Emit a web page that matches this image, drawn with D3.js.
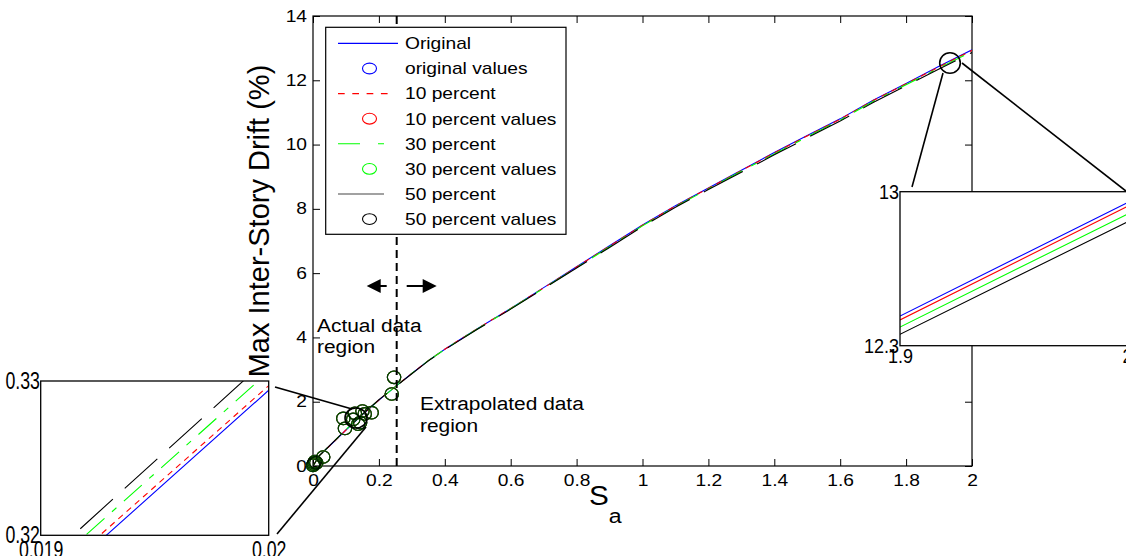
<!DOCTYPE html>
<html><head><meta charset="utf-8">
<script src="https://cdn.jsdelivr.net/npm/d3@7"></script>
<style>
body{margin:0;background:#fff}
svg{display:block}
text{font-family:"Liberation Sans",Arial,sans-serif;fill:#000}
</style>
</head><body>
<svg id="c" width="1126" height="556"></svg>
<script>
// ---------- data ----------
const sa = [0, 0.019, 0.02, 0.05, 0.1, 0.15, 0.2, 0.25, 0.3, 0.35, 0.4, 0.45, 0.5, 0.6, 0.7, 0.8, 0.9, 1.0, 1.1, 1.2, 1.3, 1.4, 1.5, 1.6, 1.7, 1.8, 1.9, 2.0];
const original  = [0, 0.3162, 0.3294, 0.62, 1.12, 1.60, 2.05, 2.47, 2.88, 3.28, 3.63, 3.96, 4.28, 4.90, 5.55, 6.20, 6.85, 7.50, 8.10, 8.65, 9.20, 9.75, 10.28, 10.80, 11.38, 11.90, 12.435, 12.949];
const percent10 = [0, 0.3166, 0.3297, 0.62, 1.12, 1.60, 2.05, 2.47, 2.88, 3.28, 3.63, 3.96, 4.28, 4.90, 5.54, 6.19, 6.84, 7.49, 8.09, 8.64, 9.19, 9.74, 10.27, 10.79, 11.37, 11.89, 12.417, 12.932];
const percent30 = [0, 0.3174, 0.3306, 0.63, 1.13, 1.61, 2.05, 2.47, 2.88, 3.28, 3.63, 3.95, 4.27, 4.89, 5.53, 6.17, 6.82, 7.47, 8.07, 8.62, 9.17, 9.71, 10.24, 10.76, 11.34, 11.86, 12.385, 12.897];
const percent50 = [0, 0.3181, 0.3315, 0.63, 1.13, 1.61, 2.06, 2.47, 2.87, 3.27, 3.62, 3.94, 4.26, 4.88, 5.52, 6.16, 6.80, 7.45, 8.05, 8.60, 9.14, 9.68, 10.21, 10.73, 11.31, 11.83, 12.352, 12.862];

// measured (actual data) points
const ptSa   = [0.000, 0.002, 0.004, 0.006, 0.010, 0.031, 0.092, 0.097, 0.122, 0.127, 0.137, 0.143, 0.150, 0.157, 0.178, 0.239, 0.246];
const ptOrig = [0.02, 0.06, 0.10, 0.14, 0.10, 0.28, 1.48, 1.17, 1.45, 1.64, 1.30, 1.35, 1.71, 1.62, 1.66, 2.24, 2.76];
const pt10   = [0.02, 0.06, 0.10, 0.14, 0.10, 0.28, 1.48, 1.17, 1.45, 1.64, 1.30, 1.35, 1.71, 1.62, 1.66, 2.24, 2.76];
const pt30   = [0.02, 0.06, 0.10, 0.14, 0.10, 0.28, 1.48, 1.17, 1.45, 1.64, 1.30, 1.35, 1.71, 1.62, 1.66, 2.24, 2.76];
const pt50   = [0.02, 0.06, 0.10, 0.14, 0.10, 0.28, 1.48, 1.17, 1.45, 1.64, 1.30, 1.35, 1.71, 1.62, 1.66, 2.24, 2.76];

const xTicks = [0, 0.2, 0.4, 0.6, 0.8, 1, 1.2, 1.4, 1.6, 1.8, 2];
const yTicks = [0, 2, 4, 6, 8, 10, 12, 14];
const legendLabels = ["Original", "original values", "10 percent", "10 percent values", "30 percent", "30 percent values", "50 percent", "50 percent values"];
const boundarySa = 0.254;

// ---------- styles ----------
const series = [
  {name:"Original",   vals: original,  pts: ptOrig, color:"#0000ff", dash:null},
  {name:"10 percent", vals: percent10, pts: pt10,   color:"#ff0000", dash:"6,5"},
  {name:"30 percent", vals: percent30, pts: pt30,   color:"#00ff00", dash:"24,10,6,10"},
  {name:"50 percent", vals: percent50, pts: pt50,   color:"#000000", dash:"44,16"}
];

const svg = d3.select("#c");
const SX = 1.2; // horizontal text stretch

const x = d3.scaleLinear().domain([0, 2]).range([313, 972]);
const y = d3.scaleLinear().domain([0, 14]).range([466, 16]);

// axes
const gx = svg.append("g").attr("transform", `translate(0,${y(0)})`)
  .call(d3.axisBottom(x).tickValues(xTicks).tickSize(-7).tickSizeOuter(0).tickPadding(9).tickFormat(d3.format("")));
const gy = svg.append("g").attr("transform", `translate(${x(0)},0)`)
  .call(d3.axisLeft(y).tickValues(yTicks).tickSize(-7).tickSizeOuter(0).tickPadding(5).tickFormat(d3.format("")));
svg.append("g").attr("transform", `translate(0,${y(14)})`)
  .call(d3.axisTop(x).tickValues(xTicks).tickSize(-7).tickSizeOuter(0).tickFormat(""));
svg.append("g").attr("transform", `translate(${x(2)},0)`)
  .call(d3.axisRight(y).tickValues(yTicks).tickSize(-7).tickSizeOuter(0).tickFormat(""));
svg.selectAll(".domain").remove();
svg.selectAll(".tick line").attr("stroke", "#000");
[gx, gy].forEach(g => g.selectAll("text")
  .attr("font-size", 16).attr("font-family", "Liberation Sans, Arial, sans-serif").attr("fill", "#000")
  .attr("transform", `scale(${SX},1)`));
svg.append("rect").attr("x", x(0)).attr("y", y(14)).attr("width", x(2) - x(0)).attr("height", y(0) - y(14))
  .attr("fill", "none").attr("stroke", "#000").attr("stroke-width", 1.2);

// curves
function drawCurves(g, xs, ys, useDash) {
  series.forEach(s => {
    const line = d3.line().x((d, i) => xs(sa[i])).y(d => ys(d));
    g.append("path").datum(s.vals).attr("d", line).attr("fill", "none")
      .attr("stroke", s.color).attr("stroke-width", 1.1)
      .attr("stroke-dasharray", useDash ? s.dash : null);
  });
}
const main = svg.append("g");
main.append("clipPath").attr("id", "mclip").append("rect")
  .attr("x", x(0)).attr("y", y(14)).attr("width", x(2) - x(0)).attr("height", y(0) - y(14));
const mainCurves = main.append("g").attr("clip-path", "url(#mclip)");
drawCurves(mainCurves, x, y, true);

// data points
series.forEach((s, k) => {
  main.append("g").selectAll("ellipse").data(s.pts).join("ellipse")
    .attr("cx", (d, i) => x(ptSa[i])).attr("cy", d => y(d))
    .attr("rx", 6.7).attr("ry", 6.3).attr("fill", "none")
    .attr("stroke", s.color).attr("stroke-width", 1.1)
    .attr("stroke-opacity", k === 3 ? 0.78 : 1);
});

// boundary dashed line
svg.append("line").attr("x1", x(boundarySa)).attr("x2", x(boundarySa)).attr("y1", y(14)).attr("y2", y(0))
  .attr("stroke", "#000").attr("stroke-width", 2).attr("stroke-dasharray", "8,5");

// arrows
const ay = y(5.6), bx = x(boundarySa);
svg.append("path").attr("d", `M${bx-30},${ay} L${bx-16},${ay-7} L${bx-16},${ay+7} Z`).attr("fill", "#000");
svg.append("line").attr("x1", bx-17).attr("x2", bx-10).attr("y1", ay).attr("y2", ay).attr("stroke", "#000").attr("stroke-width", 2);
svg.append("path").attr("d", `M${bx+40},${ay} L${bx+26},${ay-7} L${bx+26},${ay+7} Z`).attr("fill", "#000");
svg.append("line").attr("x1", bx+10).attr("x2", bx+27).attr("y1", ay).attr("y2", ay).attr("stroke", "#000").attr("stroke-width", 2);

// annotations
function stext(parent, tx, ty, s, size, anchor, sx) {
  return parent.append("text").attr("transform", `translate(${tx},${ty}) scale(${sx},1)`)
    .attr("text-anchor", anchor || "start").attr("font-size", size).text(s);
}
stext(svg, 317, 332, "Actual data", 19, "start", 1.1);
stext(svg, 317, 353, "region", 19, "start", 1.1);
stext(svg, 420, 410, "Extrapolated data", 19, "start", 1.1);
stext(svg, 420, 432, "region", 19, "start", 1.1);

// legend
const lg = svg.append("g");
lg.append("rect").attr("x", 325.7).attr("y", 27.3).attr("width", 240.3).attr("height", 207)
  .attr("fill", "#fff").attr("stroke", "#000").attr("stroke-width", 1.2);
legendLabels.forEach((lab, i) => {
  const ry = 43.4 + i * 25.1;
  const s = series[Math.floor(i / 2)];
  if (i % 2 === 0) {
    const x2 = i === 0 ? 398 : (i === 2 ? 392 : 384);
    lg.append("line").attr("x1", 338).attr("x2", x2).attr("y1", ry).attr("y2", ry)
      .attr("stroke", i === 6 ? "#444" : s.color).attr("stroke-width", 1.1)
      .attr("stroke-dasharray", i === 2 ? "6.7,7.6" : (i === 4 ? "22,18,7,20" : null));
  } else {
    lg.append("ellipse").attr("cx", 369.5).attr("cy", ry).attr("rx", 7).attr("ry", 5.4)
      .attr("fill", "none").attr("stroke", s.color).attr("stroke-width", 1.1);
  }
  stext(lg, 405, ry + 5.8, lab, 16, "start", SX);
});

// magnifier circles and connectors
svg.append("ellipse").attr("cx", 356).attr("cy", 418).attr("rx", 11).attr("ry", 10)
  .attr("fill", "none").attr("stroke", "#000").attr("stroke-width", 1.6);
svg.append("line").attr("x1", 275).attr("y1", 387).attr("x2", 352).attr("y2", 409).attr("stroke", "#000").attr("stroke-width", 1.6);
svg.append("line").attr("x1", 277).attr("y1", 534).attr("x2", 366).attr("y2", 427).attr("stroke", "#000").attr("stroke-width", 1.6);
svg.append("ellipse").attr("cx", 950).attr("cy", 63).attr("rx", 10.3).attr("ry", 10.3)
  .attr("fill", "none").attr("stroke", "#000").attr("stroke-width", 1.6);
svg.append("line").attr("x1", 943).attr("y1", 73).attr("x2", 912).attr("y2", 187).attr("stroke", "#000").attr("stroke-width", 1.6);
svg.append("line").attr("x1", 962).attr("y1", 63).attr("x2", 1126).attr("y2", 191).attr("stroke", "#000").attr("stroke-width", 1.6);

// insets
function inset(id, xd, yd, xr, yr, useDash, fontSize, sx, padX) {
  const xs = d3.scaleLinear().domain(xd).range(xr);
  const ys = d3.scaleLinear().domain(yd).range(yr);
  const g = svg.append("g");
  g.append("rect").attr("x", xr[0]).attr("y", yr[1]).attr("width", xr[1] - xr[0]).attr("height", yr[0] - yr[1])
    .attr("fill", "#fff");
  g.append("clipPath").attr("id", id).append("rect")
    .attr("x", xr[0]).attr("y", yr[1]).attr("width", xr[1] - xr[0]).attr("height", yr[0] - yr[1]);
  const cg = g.append("g").attr("clip-path", `url(#${id})`);
  drawCurves(cg, xs, ys, useDash);
  g.append("rect").attr("x", xr[0]).attr("y", yr[1]).attr("width", xr[1] - xr[0]).attr("height", yr[0] - yr[1])
    .attr("fill", "none").attr("stroke", "#000").attr("stroke-width", 1.3);
  const ax = g.append("g").attr("transform", `translate(0,${yr[0]})`)
    .call(d3.axisBottom(xs).tickValues(xd).tickSize(0).tickPadding(padX).tickFormat(d3.format("")));
  const ay2 = g.append("g").attr("transform", `translate(${xr[0]},0)`)
    .call(d3.axisLeft(ys).tickValues(yd).tickSize(0).tickPadding(1).tickFormat(d3.format("")));
  g.selectAll(".domain").remove();
  [ax, ay2].forEach(a => a.selectAll("text").attr("font-size", fontSize)
    .attr("font-family", "Liberation Sans, Arial, sans-serif").attr("fill", "#000")
    .attr("transform", `scale(${sx},1)`));
  return g;
}
inset("lclip", [0.019, 0.02], [0.32, 0.33], [40.7, 268.7], [535.3, 381], true, 24, 0.74, 6);
inset("rclip", [1.9, 2], [12.3, 13], [900, 1127], [345.7, 191.7], false, 20, 0.9, 3);

// axis labels
const xl = svg.append("text").attr("transform", `translate(589,505) scale(1.1,1)`).attr("font-size", 27);
xl.append("tspan").text("S");
xl.append("tspan").attr("font-size", 21).attr("dy", 18).text("a");
svg.append("text").attr("transform", `translate(269,221) rotate(-90)`)
  .attr("text-anchor", "middle").attr("font-size", 29).text("Max Inter-Story Drift (%)");
</script>
</body></html>
